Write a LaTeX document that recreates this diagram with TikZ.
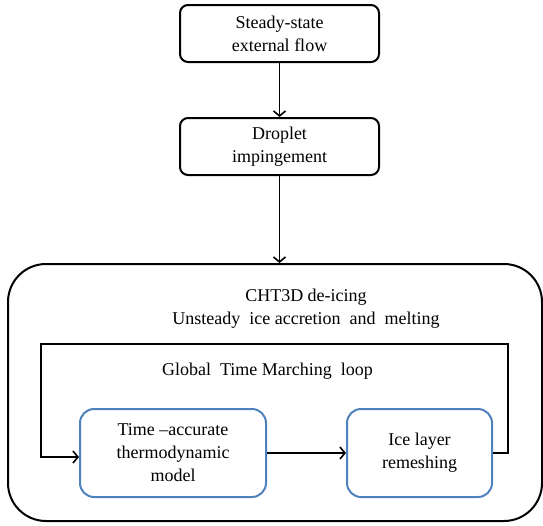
\documentclass[tikz,border=0pt]{standalone}
\usepackage{fontspec}
\setmainfont{Liberation Serif}
\usetikzlibrary{arrows.meta}
\definecolor{boxblue}{RGB}{79,129,189}
\tikzset{
 blackbox/.style={draw=black,line width=2pt,rounded corners=8pt,align=center,
  minimum width=199pt,minimum height=57pt,inner sep=0pt},
 bluebox/.style={draw=boxblue,line width=2pt,rounded corners=14pt,align=center,
  minimum height=88pt,inner sep=0pt},
 conn/.style={line width=1.6pt,-{Straight Barb[length=5pt,width=12pt,line width=1.6pt]}},
}
\begin{document}
\begin{tikzpicture}[x=1pt,y=-1pt,font=\fontsize{18}{23}\selectfont]
 \useasboundingbox (0,0) rectangle (543,525);
 \node[blackbox] (flow) at (279.5,33.5) {Steady-state\\external flow};
 \node[blackbox] (drop) at (279.5,146.5) {Droplet\\impingement};
 \node[draw,line width=2pt,rounded corners=38pt,minimum width=534pt,minimum height=257pt] (deice) at (275,392.5) {};
 \node[align=center] (title) at (306,309) {CHT3D de-icing\\Unsteady\ \ ice accretion\ \ and\ \ melting};
 \node (loop) at (267.5,371) {Global\ \ Time Marching\ \ loop};
 \node[bluebox,minimum width=186pt] (time) at (173,453) {Time --accurate\\thermodynamic\\model};
 \node[bluebox,minimum width=145pt] (ice) at (419.5,453) {Ice layer\\remeshing};
 \coordinate (loopR) at (508,344);
 \coordinate (loopL) at (41,344);
 \draw[conn] (flow) -- (drop);
 \draw[conn] (drop) -- (deice.north -| drop);
 \draw[conn] (time) -- (ice);
 \draw[conn] (ice.east) -| (loopR) -- (loopL) |- ([yshift=-4pt]time.west);
\end{tikzpicture}
\end{document}
